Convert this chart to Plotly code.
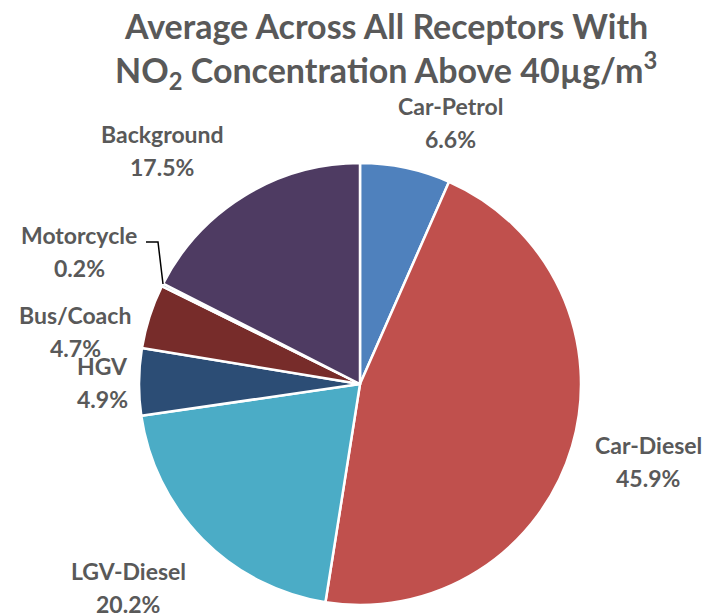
import plotly.graph_objects as go

categories = ["Car-Petrol", "Car-Diesel", "LGV-Diesel", "HGV", "Bus/Coach", "Motorcycle", "Background"]
values = [6.6, 45.9, 20.2, 4.9, 4.7, 0.2, 17.5]
colors = ["#4F81BD", "#C0504D", "#4BACC6", "#2C4D75", "#772C2A", "#276A7C", "#4E3B62"]

# label centre positions in pixels (x, y of first line)
label_pos = {
    "Car-Petrol": (450, 106),
    "Car-Diesel": (648, 445),
    "LGV-Diesel": (128, 571),
    "HGV": (102, 366),
    "Bus/Coach": (75, 315),
    "Motorcycle": (79, 235),
    "Background": (162, 134),
}

W, H = 710, 614
cx, cy, r = 360, 384, 221
FONT = "Lato"
TXT = "#595959"

fig = go.Figure(go.Pie(
    labels=categories, values=values, sort=False, direction="clockwise", rotation=0,
    marker=dict(colors=colors, line=dict(color="white", width=2.5)),
    textinfo="none", hoverinfo="label+percent", showlegend=False,
    domain=dict(x=[(cx - r) / W, (cx + r) / W], y=[1 - (cy + r) / H, 1 - (cy - r) / H]),
))

ann = []
for cat, v in zip(categories, values):
    x, y = label_pos[cat]
    for i, t in enumerate([cat, f"{v:.1f}%"]):
        ann.append(dict(x=x / W, y=1 - (y + i * 33) / H, xref="paper", yref="paper",
                        text=f"<b>{t}</b>", showarrow=False, xanchor="center", yanchor="middle",
                        font=dict(family=FONT, size=23, color=TXT)))

ann.append(dict(x=386 / W, y=1 - 25 / H, xref="paper", yref="paper", showarrow=False,
                text="<b>Average Across All Receptors With</b>", xanchor="center", yanchor="middle",
                font=dict(family=FONT, size=34, color=TXT)))
ann.append(dict(x=386 / W, y=1 - 70 / H, xref="paper", yref="paper", showarrow=False,
                text="<b>NO<sub>2</sub> Concentration Above 40µg/m<sup>3</sup></b>", xanchor="center", yanchor="middle",
                font=dict(family=FONT, size=34, color=TXT)))

def px(x, y):
    return f"{x / W} {1 - y / H}"

fig.update_layout(
    width=W, height=H, margin=dict(l=0, r=0, t=0, b=0),
    paper_bgcolor="white", plot_bgcolor="white",
    annotations=ann,
    shapes=[dict(type="path", xref="paper", yref="paper",
                 path=f"M {px(146, 242)} L {px(158, 242)} L {px(163, 284)}",
                 line=dict(color="black", width=1.5))],
)

fig.write_html("out.html", config={"displayModeBar": False},
               post_script="document.body.style.margin='0';document.body.style.overflow='hidden';")
